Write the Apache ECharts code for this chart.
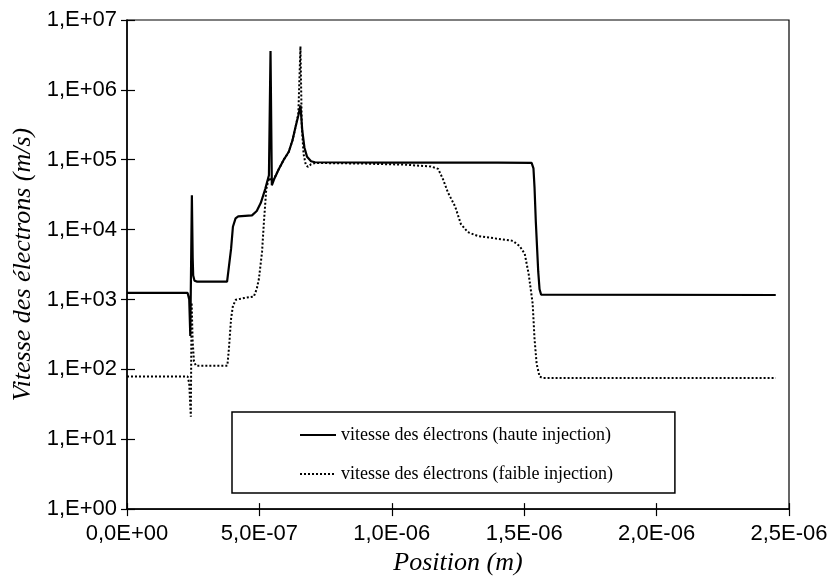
<!DOCTYPE html>
<html>
<head>
<meta charset="utf-8">
<script src="https://cdn.jsdelivr.net/npm/echarts@6/dist/echarts.min.js"></script>
<style>
html,body{margin:0;padding:0;background:#fff;}
#chart{width:831px;height:581px;}
</style>
</head>
<body>
<div id="chart"></div>
<script>
// ---- Data (position in m, speed in m/s) ----
var seriesNames = ['vitesse des électrons (haute injection)', 'vitesse des électrons (faible injection)'];

var xHaute = [0, 2.29e-7, 2.35e-7, 2.39e-7, 2.45e-7, 2.48e-7, 2.50e-7, 2.55e-7, 2.65e-7, 3.78e-7, 3.85e-7, 3.93e-7, 4.0e-7, 4.1e-7, 4.2e-7, 4.72e-7, 4.9e-7, 5.05e-7, 5.22e-7, 5.36e-7, 5.42e-7, 5.47e-7, 5.55e-7, 5.73e-7, 5.92e-7, 6.11e-7, 6.25e-7, 6.36e-7, 6.47e-7, 6.55e-7, 6.62e-7, 6.70e-7, 6.80e-7, 6.95e-7, 7.1e-7, 1.0e-6, 1.2e-6, 1.4e-6, 1.528e-6, 1.535e-6, 1.539e-6, 1.544e-6, 1.553e-6, 1.558e-6, 1.564e-6, 2.45e-6];
var yHaute = [1240, 1240, 1000, 300, 31000, 4000, 2200, 1850, 1800, 1800, 1900, 5300, 11000, 14500, 15500, 16000, 18500, 24000, 38000, 60000, 3600000, 43000, 52000, 73000, 100000, 130000, 190000, 290000, 430000, 600000, 260000, 150000, 110000, 95000, 92000, 91000, 91000, 91000, 90000, 75000, 40000, 12700, 2500, 1400, 1170, 1160];

var xFaible = [0, 2.29e-7, 2.35e-7, 2.41e-7, 2.44e-7, 2.48e-7, 2.53e-7, 2.6e-7, 3.79e-7, 3.85e-7, 3.93e-7, 4.0e-7, 4.11e-7, 4.42e-7, 4.79e-7, 4.9e-7, 4.98e-7, 5.1e-7, 5.17e-7, 5.26e-7, 5.36e-7, 5.45e-7, 5.55e-7, 5.73e-7, 5.92e-7, 6.11e-7, 6.25e-7, 6.36e-7, 6.47e-7, 6.55e-7, 6.60e-7, 6.67e-7, 6.75e-7, 6.83e-7, 6.95e-7, 7.1e-7, 9.0e-7, 1.05e-6, 1.148e-6, 1.175e-6, 1.193e-6, 1.212e-6, 1.239e-6, 1.261e-6, 1.287e-6, 1.325e-6, 1.4e-6, 1.457e-6, 1.483e-6, 1.502e-6, 1.517e-6, 1.532e-6, 1.539e-6, 1.547e-6, 1.558e-6, 1.569e-6, 2.45e-6];
var yFaible = [79, 79, 63, 21, 900, 250, 130, 113, 113, 200, 530, 810, 990, 1050, 1100, 1420, 1960, 4800, 12700, 38000, 55000, 50000, 53000, 73000, 100000, 130000, 190000, 290000, 450000, 4200000, 300000, 120000, 85000, 79000, 86000, 90000, 88000, 85000, 80000, 74000, 53000, 34000, 21500, 12000, 9200, 8100, 7400, 6900, 5800, 4500, 2300, 870, 274, 120, 79, 75.5, 75.5];

var xTickLabels = ['0,0E+00', '5,0E-07', '1,0E-06', '1,5E-06', '2,0E-06', '2,5E-06'];
var yTickLabels = ['1,E+00', '1,E+01', '1,E+02', '1,E+03', '1,E+04', '1,E+05', '1,E+06', '1,E+07'];
var xName = 'Position (m)';
var yName = 'Vitesse des électrons (m/s)';

function pairs(xs, ys) {
  var out = [];
  for (var i = 0; i < xs.length; i++) out.push([xs[i], ys[i]]);
  return out;
}

var chart = echarts.init(document.getElementById('chart'), null, {renderer: 'canvas'});
var labelFont = {color: '#000', fontFamily: 'Liberation Sans, Arial, sans-serif', fontSize: 22};
var nameFont = {color: '#000', fontFamily: 'Liberation Serif, Times New Roman, serif', fontStyle: 'italic', fontSize: 26};

var option = {
  animation: false,
  backgroundColor: '#fff',
  grid: {left: 127, right: 42, top: 20, bottom: 70, show: true, borderColor: '#000', borderWidth: 1.2, backgroundColor: 'transparent'},
  legend: {
    data: seriesNames,
    orient: 'vertical',
    left: 232, top: 412,
    padding: [13, 62, 9, 67],
    itemGap: 19,
    itemWidth: 36, itemHeight: 14,
    itemStyle: {opacity: 0},
    borderColor: '#000', borderWidth: 1.5,
    textStyle: {color: '#000', fontFamily: 'Liberation Serif, Times New Roman, serif', fontSize: 18, lineHeight: 20}
  },
  xAxis: [{
    type: 'value', min: 0, max: 2.5e-6, interval: 5e-7,
    name: xName, nameLocation: 'middle', nameGap: 40, nameTextStyle: nameFont,
    axisLine: {lineStyle: {color: '#000', width: 1.5}},
    axisTick: {length: 7, lineStyle: {color: '#000', width: 1.2}},
    axisLabel: Object.assign({margin: 14, formatter: function (v) { return xTickLabels[Math.round(v / 5e-7)]; }}, labelFont),
    splitLine: {show: false}
  }, {
    type: 'value', min: 0, max: 2.5e-6, interval: 5e-7, position: 'bottom',
    axisLine: {show: false},
    axisTick: {inside: true, length: 6, lineStyle: {color: '#000', width: 1.2}},
    axisLabel: {show: false}, splitLine: {show: false}
  }],
  yAxis: [{
    type: 'log', logBase: 10, min: 1, max: 1e7, interval: 1,
    name: yName, nameLocation: 'middle', nameGap: 87, nameTextStyle: nameFont,
    axisLine: {lineStyle: {color: '#000', width: 1.5}},
    axisTick: {length: 6, lineStyle: {color: '#000', width: 1.2}},
    axisLabel: Object.assign({margin: 10, formatter: function (v) { return yTickLabels[Math.round(Math.log10(v))]; }}, labelFont),
    splitLine: {show: false}, minorTick: {show: false}
  }, {
    type: 'log', logBase: 10, min: 1, max: 1e7, interval: 1, position: 'left',
    axisLine: {show: false},
    axisTick: {inside: true, length: 8, lineStyle: {color: '#000', width: 1.2}},
    axisLabel: {show: false}, splitLine: {show: false}
  }],
  series: [{
    name: seriesNames[0], type: 'line', xAxisIndex: 0, yAxisIndex: 0,
    data: pairs(xHaute, yHaute), showSymbol: false, symbol: 'none',
    lineStyle: {color: '#000', width: 2.2, type: 'solid'}, itemStyle: {color: '#000'}
  }, {
    name: seriesNames[1], type: 'line', xAxisIndex: 0, yAxisIndex: 0,
    data: pairs(xFaible, yFaible), showSymbol: false, symbol: 'none',
    lineStyle: {color: '#000', width: 2, type: [2, 2]}, itemStyle: {color: '#000'}
  }]
};
chart.setOption(option);
</script>
</body>
</html>
